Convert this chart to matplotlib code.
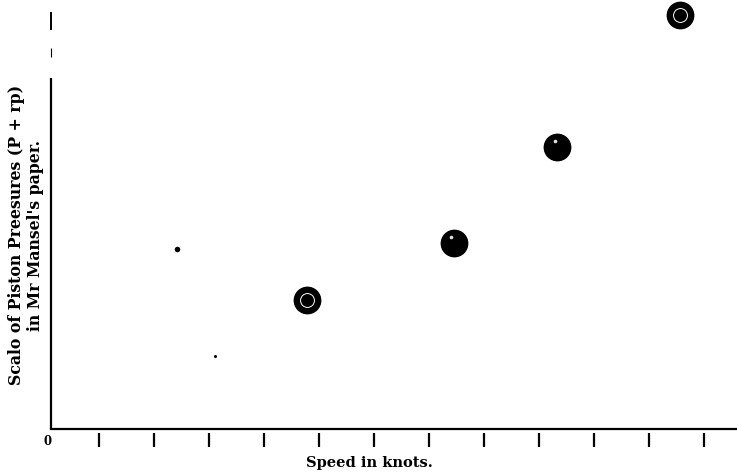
import matplotlib.pyplot as plt
import numpy as np

# speed (knots) and pressure scale (arbitrary units)
speed_big = [4.78, 7.45, 9.33, 11.56]
pressure_big = [129, 186, 282, 414]
ringed = [True, False, False, True]

speed_small = [2.42, 3.11]
pressure_small = [180, 73]
small_sizes = [4, 2.2]

knot_ticks = list(range(1, 13))

plt.rcParams['font.family'] = ['DejaVu Serif']

fig = plt.figure(figsize=(7.37, 4.73), dpi=100)
ax = fig.add_axes([51 / 737, 44 / 473, 686 / 737, 429 / 473])
ax.set_xlim(0.13, 12.6)
ax.set_ylim(0, 429)

# big observation dots
ax.plot(speed_big, pressure_big, 'o', color='black', markersize=19, clip_on=False)
for x, y, r in zip(speed_big, pressure_big, ringed):
    if r:
        ax.plot(x, y, 'o', markerfacecolor='none', markeredgecolor='white',
                markeredgewidth=0.7, markersize=10, clip_on=False)
    else:
        ax.plot(x - 0.04, y + 6, 'o', color='#dddddd', markersize=1.6, clip_on=False)

# small stray points
for x, y, s in zip(speed_small, pressure_small, small_sizes):
    ax.plot(x, y, 'o', color='black', markersize=s, markeredgewidth=0)

# axes look
for side in ['top', 'right', 'left']:
    ax.spines[side].set_visible(False)
ax.spines['bottom'].set_visible(False)
ax.spines['bottom'].set_position(('outward', 3))
ax.axhline(0, color='black', linewidth=1.6, clip_on=False)

# broken vertical axis
for y0, y1, lw in [(0.0, 0.818, 1.6), (0.867, 0.888, 0.8), (0.930, 0.972, 1.4)]:
    ax.plot([0, 0], [y0, y1], color='black', linewidth=lw, transform=ax.transAxes,
            clip_on=False, solid_capstyle='butt')

ax.set_xticks(knot_ticks)
ax.set_xticklabels([])
ax.tick_params(axis='x', direction='out', length=10, width=1.6, color='black')
ax.set_yticks([])

fig.text(48 / 737, 1 - 441 / 473, '0', ha='center', va='center',
         fontsize=8.5, fontweight='bold')

fig.text(369 / 737, 1 - 463 / 473, 'Speed in knots.', ha='center', va='center',
         fontsize=10.5, fontweight='bold')
fig.text(26 / 737, 1 - 235 / 473, "Scalo of Piston Preesures (P + rp)\nin Mr Mansel's paper.",
         rotation=90, ha='center', va='center', fontsize=11.3, fontweight='bold',
         linespacing=1.1, multialignment='center')

fig.savefig('out.png', dpi=100)
